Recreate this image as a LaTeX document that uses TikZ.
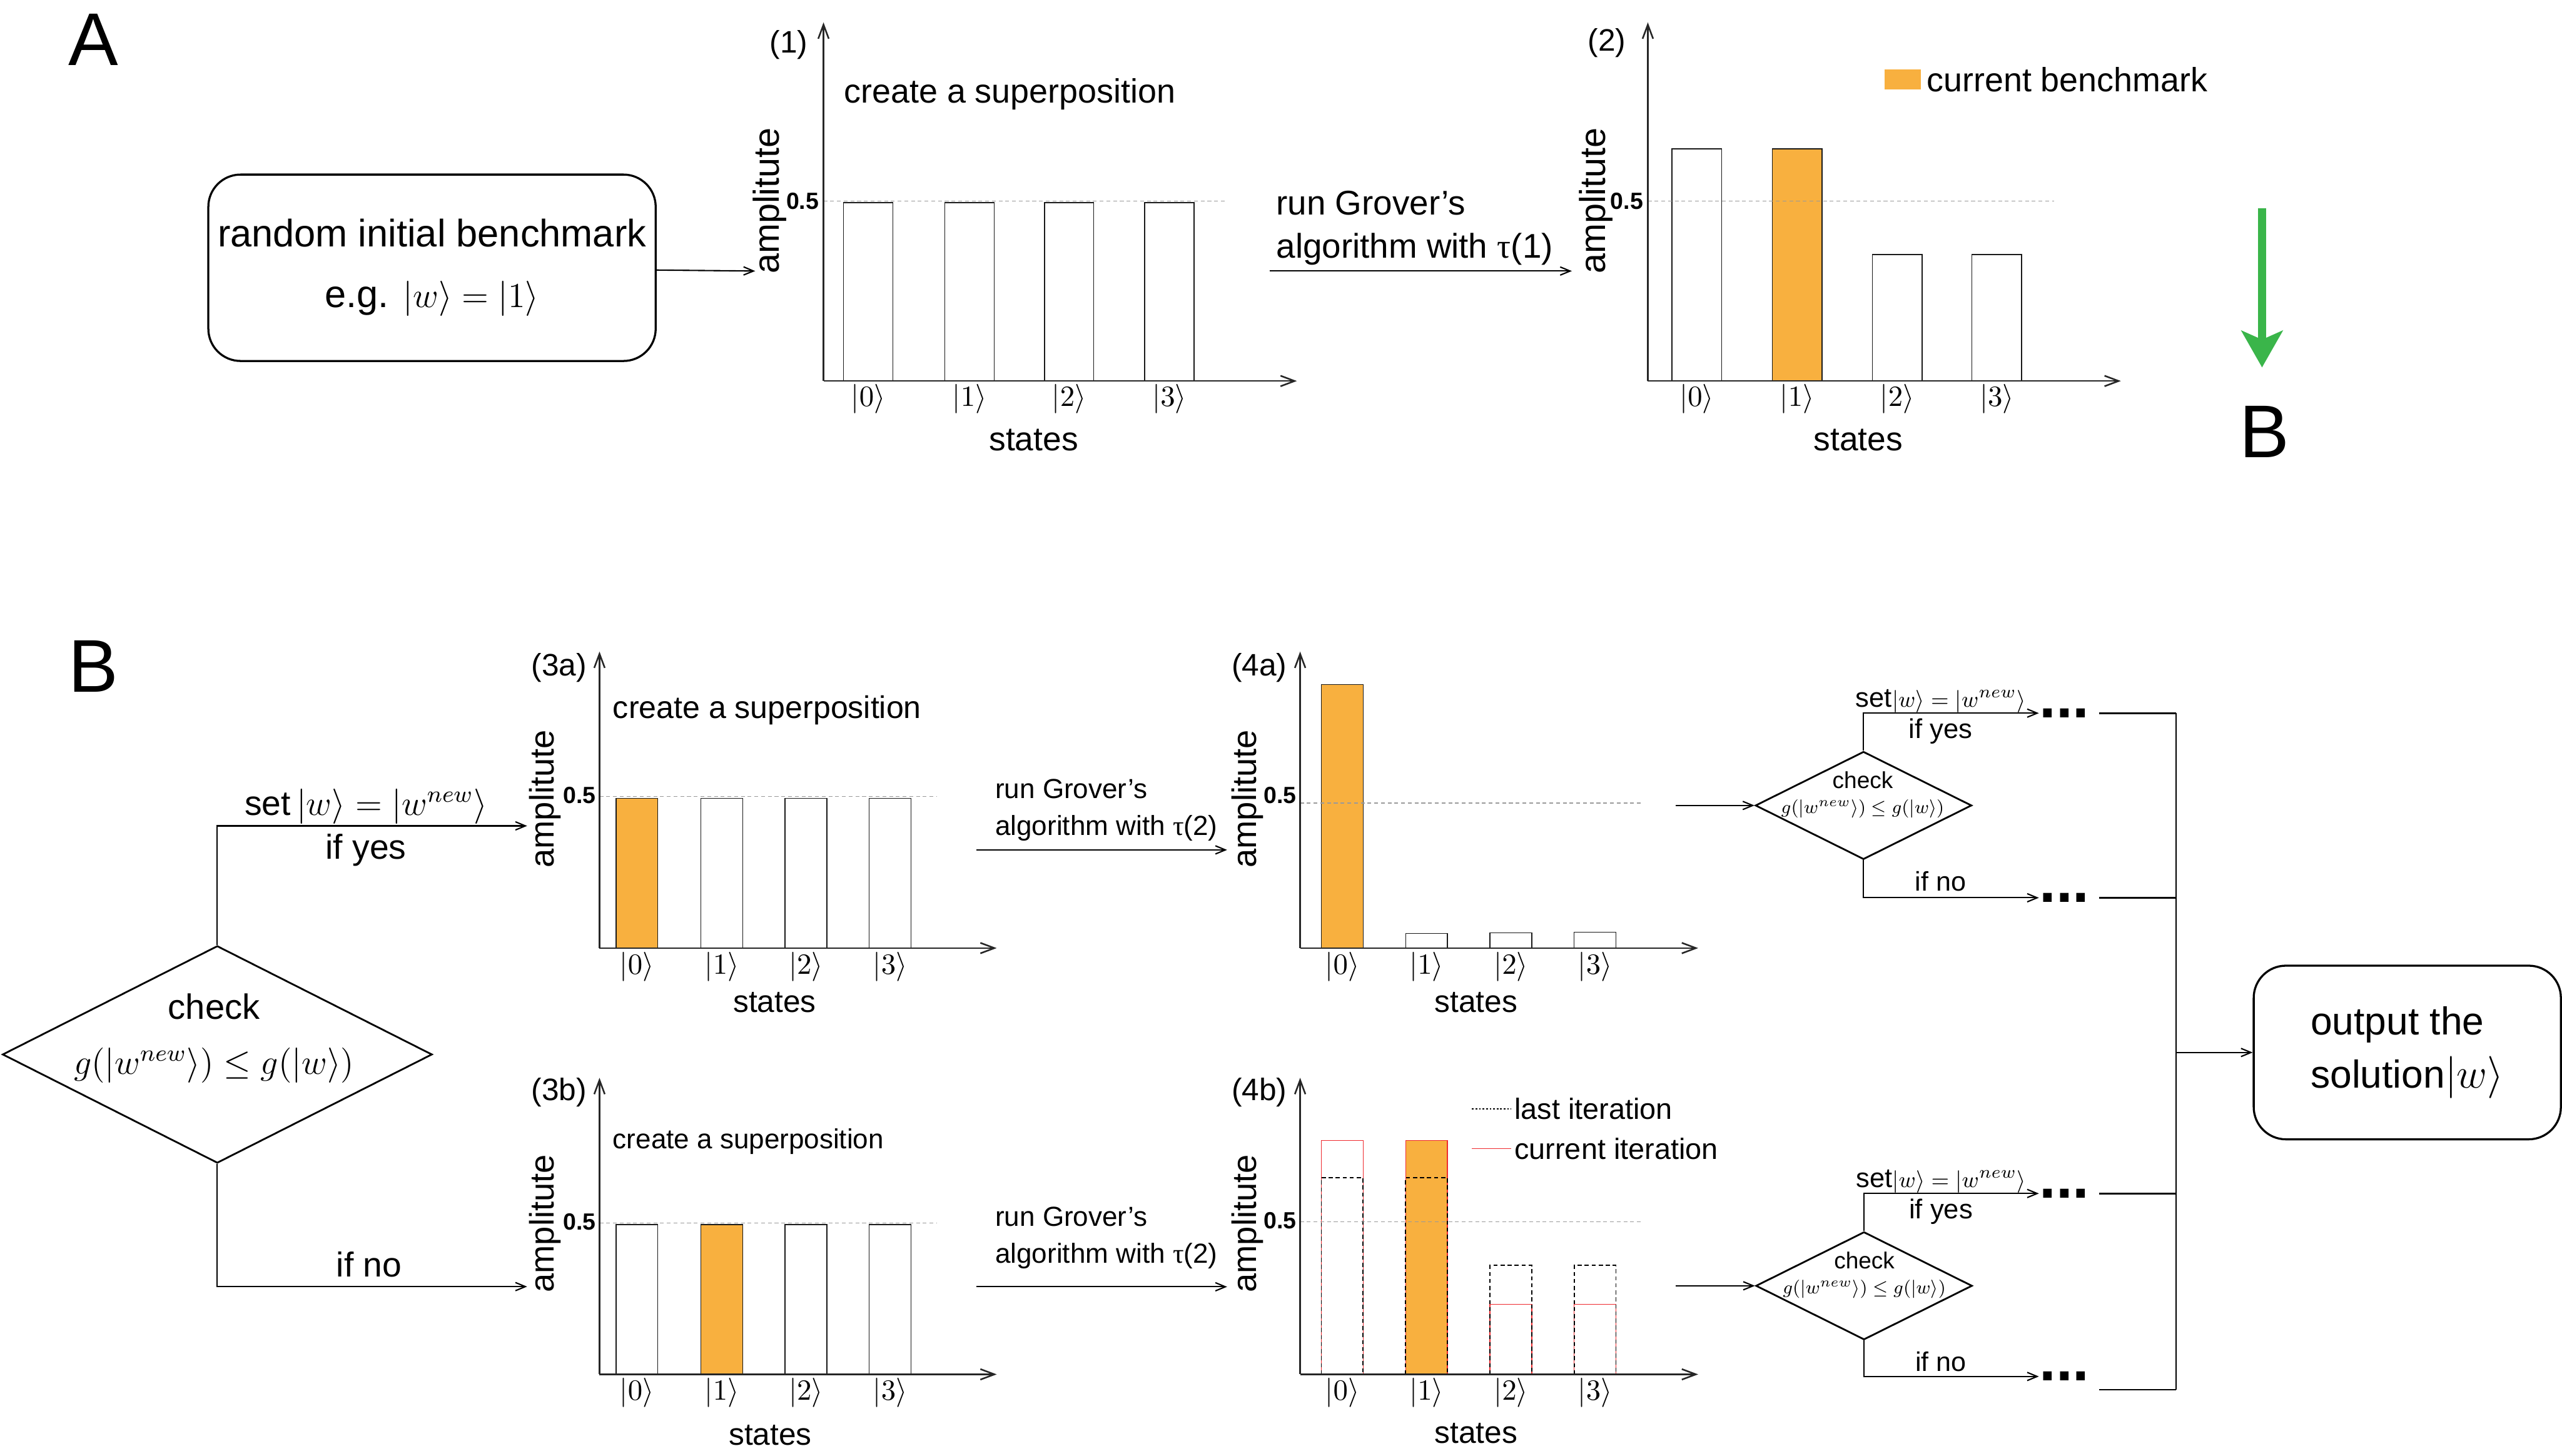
\documentclass[tikz,border=0pt]{standalone}
\usepackage{amsmath,amssymb}
\usepackage{graphicx}
\usepackage{fontspec}
\setmainfont{Liberation Sans}
\newfontfamily\taufont{Liberation Serif}
\usetikzlibrary{shapes.geometric,arrows.meta,positioning,calc}
\definecolor{benchorange}{HTML}{F8B03F}
\definecolor{nextgreen}{HTML}{3AB54A}
\definecolor{iterred}{HTML}{EE2A2F}

\begin{document}
\begin{tikzpicture}[x=0.019605cm, y=-0.019605cm,
  every node/.style={inner sep=1pt},
  chartaxis/.style={-{Straight Barb[length=4.8pt,width=3.6pt]}, line width=0.55pt, black!85},
  statebar/.style={draw=black!90, line width=0.32pt},
  halfline/.style={black!40, line width=0.3pt, dash pattern=on 1.3pt off 1pt},
  lastit/.style={black, line width=0.4pt, dash pattern=on 1.4pt off 1pt},
  curit/.style={iterred, line width=0.35pt},
  flow/.style={-{Straight Barb[length=3.4pt,width=2.8pt]}, line width=0.45pt},
  wire/.style={line width=0.55pt},
  roundbox/.style={draw, line width=0.7pt, rounded corners=11pt, align=center},
  decision/.style={diamond, draw, line width=0.6pt, inner sep=0pt},
  ket/.style={inner sep=0pt, font=\fontsize{10}{12}\selectfont},
  halflbl/.style={anchor=east, inner sep=0pt, font=\bfseries\fontsize{8}{9}\selectfont},
  amp/.style={rotate=90, inner sep=0pt},
  tag/.style={inner sep=0pt, font=\fontsize{10.6}{12}\selectfont},
  legtext/.style={right, text=black, font=\fontsize{10}{12}\selectfont},
  panellbl/.style={inner sep=0pt, font=\fontsize{25.5}{28}\selectfont},
  moredots/.style={inner sep=0pt, font=\bfseries\fontsize{20.5}{21}\selectfont}]

\fill[white] (0,0) rectangle (1568,891);
\useasboundingbox (0,0) rectangle (1568,891);

% ---------- A: first round ----------
\node[panellbl] (labA) at (57.3,24.4) {A};
\node[roundbox, minimum width=5.368cm, minimum height=2.237cm,
      font=\fontsize{13.1}{20.7}\selectfont] (bench) at (264.4,163.9)
  {random initial benchmark\\e.g. $|w\rangle = |1\rangle$};
\coordinate (in1) at (462.2,165.9);
\draw[flow] (bench) -- (in1);

% chart (1)
\begin{scope}[shift={(504,233.2)}, yscale=-1]
  \foreach \x/\n in {12.3/0, 74.3/1, 135.2/2, 196.6/3} {
    \draw[statebar] (\x,0) rectangle ++(30.2,109.1);
    \node[ket] (k1-\n) at (\x+15.1,-10.8) {$|\n\rangle$};
  }
  \draw[halfline] (0,110.2) -- (245.5,110.2);
  \draw[chartaxis] (0,0) -- (289.7,0);
  \draw[chartaxis] (0,0) -- (0,219.5);
  \node[halflbl] (h1) at (-2.5,110.2) {0.5};
  \node[amp, font=\fontsize{12.3}{14}\selectfont] (amp1) at (-33,110.3) {amplitute};
  \node[tag] (t1) at (-21.3,205.9) {(1)};
  \node[font=\fontsize{11.5}{13}\selectfont] (sup1) at (114,175.6) {create a superposition};
  \node[font=\fontsize{11.4}{13}\selectfont] (st1) at (128.6,-36.1) {states};
\end{scope}

\coordinate (gA1) at (777,165.9);
\coordinate (gA2) at (962,165.9);
\draw[flow] (gA1) -- (gA2);
\node[anchor=west, align=left, font=\fontsize{11.7}{14.7}\selectfont] (grovA) at (779,139.4)
  {run Grover's\\algorithm with {\taufont τ}(1)};

% chart (2)
\begin{scope}[shift={(1008.5,233.2)}, yscale=-1]
  \fill[benchorange] (76.1,0) rectangle ++(30.5,142.1);
  \foreach \x/\h/\n in {14.7/142.1/0, 76.1/142.1/1, 137.4/77.4/2, 198.3/77.4/3} {
    \draw[statebar] (\x,0) rectangle ++(30.5,\h);
    \node[ket] (k2-\n) at (\x+15.25,-10.8) {$|\n\rangle$};
  }
  \draw[halfline] (0,110.2) -- (248.5,110.2);
  \draw[chartaxis] (0,0) -- (289.5,0);
  \draw[chartaxis] (0,0) -- (0,219.5);
  \node[halflbl] (h2) at (-2.5,110.2) {0.5};
  \node[amp, font=\fontsize{12.3}{14}\selectfont] (amp2) at (-31.8,110.3) {amplitute};
  \node[tag] (t2) at (-25,206.9) {(2)};
  \node[font=\fontsize{11.4}{13}\selectfont] (st2) at (128.8,-36.1) {states};
  \node[fill=benchorange, minimum width=0.429cm, minimum height=0.237cm, inner sep=0pt] (legsq) at (156,184.6) {};
  \node[right=0.06cm of legsq, inner sep=0pt, font=\fontsize{11.5}{13}\selectfont] (legtxt) {current benchmark};
\end{scope}

\coordinate (gtop) at (1384.4,127.3);
\coordinate (gbot) at (1384.4,224.9);
\draw[-{Stealth[length=12.5pt,width=14pt,inset=3pt]}, nextgreen, line width=2.8pt] (gtop) -- (gbot);
\node[panellbl] (labB2) at (1386,264.3) {B};

% ---------- B: later rounds ----------
\node[panellbl] (labB) at (57,408) {B};
\node[decision, minimum width=5.156cm, minimum height=2.607cm] (chk) at (133,645.4) {};
\node[align=center, font=\fontsize{12}{18.7}\selectfont] (chktxt) at (131,635.5)
  {check\\$g(|w^{new}\rangle)\leq g(|w\rangle)$};
\coordinate (yes3a) at (322.6,505.5);
\coordinate (no3b) at (322.6,787.5);
\draw[flow] (chk.north) |- (yes3a)
  node[pos=0.74, above=-0.5pt, font=\fontsize{11.8}{13}\selectfont] (setbig) {set$\,|w\rangle = |w^{new}\rangle$}
  node[pos=0.74, below=1.5pt, font=\fontsize{11.8}{13}\selectfont] (yesbig) {if yes};
\draw[flow] (chk.south) |- (no3b)
  node[pos=0.745, above=2pt, font=\fontsize{11.8}{13}\selectfont] (nobig) {if no};

% chart (3a)
\begin{scope}[shift={(366.9,580.3)}, yscale=-1]
  \fill[benchorange] (10.1,0) rectangle ++(25.6,91.7);
  \foreach \x/\n in {10.1/0, 62.1/1, 113.5/2, 165.1/3} {
    \draw[statebar] (\x,0) rectangle ++(25.6,91.7);
    \node[ket] (k3a-\n) at (\x+12.8,-11.4) {$|\n\rangle$};
  }
  \draw[halfline] (0,92.7) -- (206.6,92.7);
  \draw[chartaxis] (0,0) -- (243.1,0);
  \draw[chartaxis] (0,0) -- (0,181.5);
  \node[halflbl] (h3a) at (-2,93.5) {0.5};
  \node[amp, font=\fontsize{11.6}{13}\selectfont] (amp3a) at (-33.4,91.3) {amplitute};
  \node[tag] (t3a) at (-24.7,171.7) {(3a)};
  \node[font=\fontsize{10.7}{12}\selectfont] (sup3a) at (102.6,145.7) {create a superposition};
  \node[font=\fontsize{10.6}{12}\selectfont] (st3a) at (107.2,-33.2) {states};
\end{scope}

\coordinate (gB1) at (597.6,520.2);
\coordinate (gB2) at (751,520.2);
\draw[flow] (gB1) -- (gB2);
\node[anchor=west, align=left, font=\fontsize{9.4}{12.7}\selectfont] (grovB1) at (607,495.8)
  {run Grover's\\algorithm with {\taufont τ}(2)};

% chart (4a)
\begin{scope}[shift={(795.7,580.3)}, yscale=-1]
  \fill[benchorange] (13,0) rectangle ++(25.6,161.3);
  \foreach \x/\h/\n in {13/161.3/0, 64.6/9/1, 116.2/9.4/2, 167.7/9.7/3} {
    \draw[statebar] (\x,0) rectangle ++(25.6,\h);
    \node[ket] (k4a-\n) at (\x+12.8,-11.4) {$|\n\rangle$};
  }
  \draw[halfline] (0,88.8) -- (209.3,88.8);
  \draw[chartaxis] (0,0) -- (243.6,0);
  \draw[chartaxis] (0,0) -- (0,181.5);
  \node[halflbl] (h4a) at (-2,93.5) {0.5};
  \node[amp, font=\fontsize{11.6}{13}\selectfont] (amp4a) at (-32.1,91.3) {amplitute};
  \node[tag] (t4a) at (-25,171.7) {(4a)};
  \node[font=\fontsize{10.6}{12}\selectfont] (st4a) at (107.6,-33.2) {states};
\end{scope}

% chart (3b)
\begin{scope}[shift={(366.9,841.2)}, yscale=-1]
  \fill[benchorange] (62.1,0) rectangle ++(25.6,91.7);
  \foreach \x/\n in {10.1/0, 62.1/1, 113.5/2, 165.1/3} {
    \draw[statebar] (\x,0) rectangle ++(25.6,91.7);
    \node[ket] (k3b-\n) at (\x+12.8,-11.4) {$|\n\rangle$};
  }
  \draw[halfline] (0,92.7) -- (206.6,92.7);
  \draw[chartaxis] (0,0) -- (243.1,0);
  \draw[chartaxis] (0,0) -- (0,181.5);
  \node[halflbl] (h3b) at (-2,93.5) {0.5};
  \node[amp, font=\fontsize{11.6}{13}\selectfont] (amp3b) at (-33.4,92.3) {amplitute};
  \node[tag] (t3b) at (-24.7,172.4) {(3b)};
  \node[font=\fontsize{9.4}{11}\selectfont] (sup3b) at (91.1,142.5) {create a superposition};
  \node[font=\fontsize{10.6}{12}\selectfont] (st3b) at (104.5,-37.4) {states};
\end{scope}

\coordinate (gC1) at (597.6,787.6);
\coordinate (gC2) at (751,787.6);
\draw[flow] (gC1) -- (gC2);
\node[anchor=west, align=left, font=\fontsize{9.4}{12.7}\selectfont] (grovB2) at (607,757.6)
  {run Grover's\\algorithm with {\taufont τ}(2)};

% chart (4b)
\begin{scope}[shift={(795.7,841.2)}, yscale=-1]
  \fill[benchorange] (64.6,0) rectangle ++(25.6,143.2);
  \foreach \x/\hr/\hd/\n in {13/143.2/120.3/0, 64.6/143.2/120.3/1, 116.2/42.9/66.7/2, 167.7/42.9/66.7/3} {
    \draw[curit] (\x,0) rectangle ++(25.6,\hr);
    \draw[lastit] (\x,0) rectangle ++(25.6,\hd);
    \node[ket] (k4b-\n) at (\x+12.8,-11.4) {$|\n\rangle$};
  }
  \draw[halfline] (0,93.4) -- (209.3,93.4);
  \draw[chartaxis] (0,0) -- (243.6,0);
  \draw[chartaxis] (0,0) -- (0,181.5);
  \node[halflbl] (h4b) at (-2,94) {0.5};
  \node[amp, font=\fontsize{11.6}{13}\selectfont] (amp4b) at (-32.1,92.3) {amplitute};
  \node[tag] (t4b) at (-25,172.4) {(4b)};
  \node[font=\fontsize{10.6}{12}\selectfont] (st4b) at (107.6,-36) {states};
  \draw[lastit, dash pattern=on 0.6pt off 0.6pt] (105.2,162.6) -- (129.1,162.6)
    node[legtext] (lastlbl) {last iteration};
  \draw[curit] (105.2,138.2) -- (129.1,138.2)
    node[legtext] (curlbl) {current iteration};
\end{scope}

% ---------- checks after round 2 ----------
\coordinate (toA) at (1025.6,493);
\coordinate (toB) at (1025.6,787);
\node[decision, minimum width=2.596cm, minimum height=1.294cm] (chkA) at (1140.5,493) {};
\node[decision, minimum width=2.596cm, minimum height=1.294cm] (chkB) at (1140.8,787) {};
\node[align=center, font=\fontsize{7.9}{8.4}\selectfont] (chkAtxt) at (1140,486.5)
  {check\\\scalebox{0.78}{$g(|w^{new}\rangle)\leq g(|w\rangle)$}};
\node[align=center, font=\fontsize{7.9}{8.4}\selectfont] (chkBtxt) at (1141,780.5)
  {check\\\scalebox{0.78}{$g(|w^{new}\rangle)\leq g(|w\rangle)$}};
\draw[flow] (toA) -- (chkA);
\draw[flow] (toB) -- (chkB);

\node[moredots] (dAy) at (1263.5,436.5) {...};
\node[moredots] (dAn) at (1263.5,549.5) {...};
\node[moredots] (dBy) at (1263.5,730.5) {...};
\node[moredots] (dBn) at (1263.5,842.5) {...};

\draw[flow] (chkA.north) |- (dAy)
  node[pos=0.72, above=-1pt, font=\fontsize{9.3}{10}\selectfont] (setA) {set\scalebox{0.85}{$|w\rangle = |w^{new}\rangle$}}
  node[pos=0.72, below=0.6pt, font=\fontsize{9.3}{10}\selectfont] (yesA) {if yes};
\draw[flow] (chkA.south) |- (dAn)
  node[pos=0.72, above=1pt, font=\fontsize{9.2}{10}\selectfont] (noA) {if no};
\draw[flow] (chkB.north) |- (dBy)
  node[pos=0.72, above=-1pt, font=\fontsize{9.3}{10}\selectfont] (setB) {set\scalebox{0.85}{$|w\rangle = |w^{new}\rangle$}}
  node[pos=0.72, below=0.6pt, font=\fontsize{9.3}{10}\selectfont] (yesB) {if yes};
\draw[flow] (chkB.south) |- (dBn)
  node[pos=0.72, above=0.5pt, font=\fontsize{9.2}{10}\selectfont] (noB) {if no};

% collect all branches
\coordinate (busT) at (1331.8,436.5);
\coordinate (busM) at (1331.8,644.2);
\coordinate (busB) at (1331.8,850.6);
\draw[wire] (busT) -- (busB);
\draw[wire] ([xshift=3pt]dAy.east) -- (busT);
\draw[wire] ([xshift=3pt]dAn.east) -- (dAn.east -| busT);
\draw[wire] ([xshift=3pt]dBy.east) -- (dBy.east -| busT);
\draw[wire] ([xshift=3pt]dBn.east |- busB) -- (busB);

\node[roundbox, align=left, minimum width=3.686cm, minimum height=2.084cm,
      font=\fontsize{13.3}{18.2}\selectfont] (out) at (1473.3,644.2)
  {output the\\solution$|w\rangle$};
\draw[flow] (busM) -- (out);
\end{tikzpicture}
\end{document}
